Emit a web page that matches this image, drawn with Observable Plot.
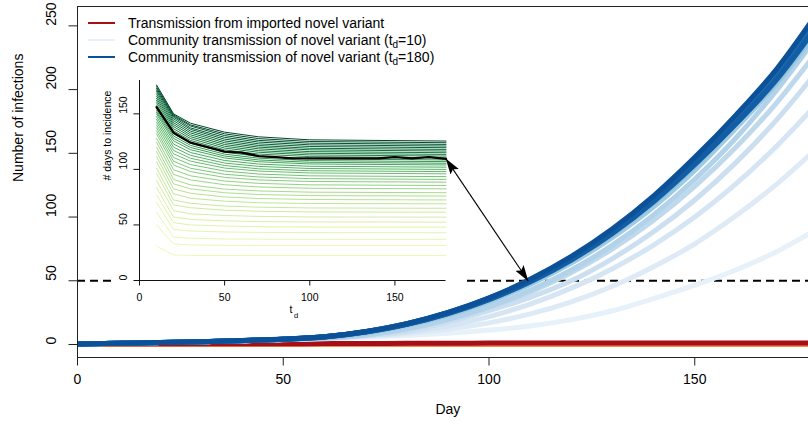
<!DOCTYPE html>
<html><head><meta charset="utf-8">
<script src="https://cdn.jsdelivr.net/npm/d3@7"></script>
<script src="https://cdn.jsdelivr.net/npm/@observablehq/plot@0.6"></script>
<style>
body{margin:0;background:#fff;}
#wrap{position:relative;width:808px;height:425px;overflow:hidden;font-family:"Liberation Sans",Arial,Helvetica,sans-serif;}
#wrap svg{position:absolute;left:0;top:0;}
#insetBg{position:absolute;left:112px;top:66px;width:354px;height:234px;background:#fff;}
#legend{position:absolute;left:88px;top:14.8px;font-size:14px;color:#000;}
.row{display:flex;align-items:center;height:17px;white-space:nowrap;}
.sw{width:27px;height:2px;margin-right:13px;flex:none;}
.sub{font-size:10px;position:relative;top:3px;}
</style></head><body><div id="wrap"></div>
<script>
// ---------- data ----------
const days = [0,10,20,30,40,50,60,70,80,90,100,110,120,130,140,150,160,170,180];
const tdValues = [10,20,30,40,50,60,70,80,90,100,110,120,130,140,150,160,170,180];
// community transmission curves, one per t_d (light -> dark)
const communityByTd = [
  [0.3,1,1.5,2.2,3,3.8,4.6,5.6,7,8.8,11.3,14.5,19.5,26.5,36,46.5,58.5,73,91],
  [0.3,1,1.5,2.2,3,3.9,4.9,6.2,8.5,12,17,24,33.5,45.7,61,79,101,126,155],
  [0.3,1,1.5,2.2,3,3.9,4.9,6.6,9.4,14.5,21.9,31.7,44.2,59.5,78,100,126,156,190],
  [0.3,1,1.5,2.2,3,3.9,5,7,10.4,17.5,26.5,37,50,67.4,88.4,113.4,142.7,176.6,215.6],
  [0.3,1,1.5,2.2,3,3.9,5,7.5,12.2,19.4,28.9,41.1,56.4,75,97.4,124,154.7,190,231],
  [0.3,1,1.5,2.2,3,3.9,5,7.5,12.3,19.8,29.7,42.5,58.5,78,101.7,129.6,162,200,243],
  [0.3,1,1.5,2.2,3,4,5.5,8.9,14.8,23,33.6,47.1,63.8,84,108,136.6,169.6,205,246],
  [0.3,1,1.5,2.2,3,4,5.6,9.3,15.4,23.7,34.6,48.4,65.5,86.2,110.8,139.7,173.3,206.5,249.3],
  [0.3,1,1.5,2.2,3,4.1,5.8,9.9,16.2,24.8,35.9,50,67.4,88.4,113.3,142.5,176.3,209.8,252.8],
  [0.3,1,1.5,2.2,3.1,4.2,6,10,16.1,24.7,35.9,50.2,67.7,89,114.3,143.9,176.5,212.4,256.2],
  [0.3,1,1.5,2.2,3.1,4.2,6.1,10.1,16.3,24.9,36.3,50.7,68.4,89.9,115.4,145.3,178.3,214.5,258.8],
  [0.3,1,1.5,2.2,3.1,4.2,5.9,9.9,15.9,24.5,35.5,49.7,67,88.1,113.2,142.5,174.7,210.2,253.7],
  [0.3,1,1.5,2.2,3.1,4.2,6,10,16.2,24.8,36.1,50.4,68,89.4,114.9,144.6,177.4,213.4,257.5],
  [0.3,1,1.5,2.2,3.1,4.2,6.1,10.1,16.3,25,36.4,50.8,68.5,90,115.6,145.5,179.5,213.5,257.4],
  [0.3,1,1.5,2.2,3,4.1,5.9,9.8,15.8,24.2,35.2,49.2,66.3,87.2,112,141,173,208.1,251.1],
  [0.3,1,1.5,2.2,3.1,4.2,6,10,16,24.6,35.7,49.9,67.4,88.6,113.7,143.2,175.6,211.3,255],
  [0.3,1,1.5,2.2,3,4.1,5.9,9.8,15.8,24.3,35.3,49.3,66.5,87.4,112.3,141.4,173.4,208.5,251.5],
  [0.3,1,1.5,2.2,3.2,4.3,6.1,10.2,16.4,25.2,36.6,51.2,69.1,90.8,116.6,146.8,180,216.6,261.3]
];
const importedMain = [0.8,0.6,0.5,0.5,0.5,0.6,0.7,0.8,0.9,1,1.1,1.1,1.1,1.1,1.1,1.1,1.1,1.1,1.1];
const importedLow  = [0,0,0,0,0,0,0,0,0,0,0,0,0,0,0,0,0,0,0];
const threshold = 50;

// inset: days to incidence vs t_d, one line per incidence level
const insetTd = [10,20,30,50,70,100,180];
const greenLines = [
  [31,23,22.5,22.5,22.5,22.5,22.5],
  [50,33,32,31.7,31.5,31.5,31.5],
  [61.5,39,38,37.4,37.2,37.1,37],
  [70,46,44.5,43.7,43.3,43.1,43],
  [77,52,50,49,48.4,48.1,48],
  [83.5,57,55,53.7,53,52.7,52.5],
  [90,63,60,58.5,57.7,57.2,57],
  [96.5,68,65.5,63.3,62.3,61.7,61.5],
  [101,72.5,69.5,67,66,65.3,65],
  [107,78,74,71.4,70,69.3,69],
  [111.5,82.5,78.5,75.2,73.8,72.9,72.5],
  [116,87,82.5,79,77.4,76.4,76],
  [120,91,86,82.3,80.6,79.5,79],
  [124.5,95.5,90.5,86.2,84.2,83,82.5],
  [128,99.7,94.2,89.5,87.4,86.1,85.5],
  [132,104,98,92.8,90.5,89.1,88.5],
  [134.7,107.3,101,95.6,93.2,91.7,91],
  [137.4,110.7,104.3,98.5,95.8,94.2,93.5],
  [140,114,107.4,101.2,98.5,96.8,96],
  [142.6,117,110,103.5,100.5,98.8,98],
  [145,120,112.6,105.7,102.7,100.8,100],
  [147.4,122.8,115.2,108,104.8,102.8,102],
  [149.8,125.7,117.7,110.3,106.9,104.9,104],
  [151.4,127.9,119.7,112,108.5,106.4,105.5],
  [153,130,121.6,113.7,110.1,107.9,107],
  [155,132,123.5,115.4,111.7,109.5,108.5],
  [158,134.8,126,117.6,113.8,111.5,110.5],
  [160,136.6,127.7,119.2,115.4,113,112],
  [162,138.5,129.4,120.8,116.9,114.5,113.5],
  [164,140.3,131.1,122.4,118.5,116,115],
  [166,142,132.8,124,120,117.6,116.5],
  [168,143.8,134.4,125.6,121.5,119,118],
  [170,145.5,136,127.2,123,120.6,119.5],
  [171.5,147,137.3,128.8,124.6,122.1,121],
  [173,148,139,130.4,126.1,123.6,122.5],
  [174.5,149,140,132,127.7,125.1,124],
  [176,150,141.5,133.5,129.3,126.6,125.5]
];
const blackLine = [156,133,124,120,116,115,112,111,110,110,110,110,110,110,111,110,111,109.5];

const xTicks = [0,50,100,150];
const yTicks = [0,50,100,150,200,250];
const insetXTicks = [0,50,100,150];
const insetYTicks = [0,50,100,150];
const xDomain = [0,180];
const yDomain = [-10.2,265.2];
const insetDomain = [0,180];
const legendLabels = ["Transmission from imported novel variant",
  "Community transmission of novel variant (t<span class='sub'>d</span>=10)",
  "Community transmission of novel variant (t<span class='sub'>d</span>=180)"];

// ---------- styles ----------
const FONT = '"Liberation Sans", Arial, Helvetica, sans-serif';
const RED = "#a50f15", ORANGE = "#f58a52";
const blueColor = k => d3.interpolateBlues(0.08 + 0.795 * k / (tdValues.length - 1));
const greenColor = k => d3.interpolateYlGn(0.15 + 0.85 * Math.pow(k / (greenLines.length - 1), 1.15));

function mainOptions(marks) {
  return {
    width: 808, height: 425,
    marginLeft: 77, marginRight: 0, marginTop: 6, marginBottom: 68,
    x: {domain: xDomain, range: [77, 817.7], axis: null},
    y: {domain: yDomain, axis: null},
    style: {fontFamily: FONT, fontSize: "14px", background: "transparent", color: "#000", overflow: "hidden"},
    marks
  };
}

const mainPlot = Plot.plot(mainOptions([
  Plot.ruleY([threshold], {stroke: "#000", strokeWidth: 1.8, strokeDasharray: "8,5"}),
  Plot.line(days, {x: d => d, y: (d, i) => importedLow[i], stroke: ORANGE, strokeWidth: 5, clip: true}),
  Plot.line(days, {x: d => d, y: (d, i) => importedMain[i], stroke: RED, strokeWidth: 5, curve: "monotone-x", clip: true}),
  ...communityByTd.map((vals, k) => Plot.line(days, {x: d => d, y: (d, i) => vals[i], stroke: blueColor(k), strokeWidth: 5, curve: "monotone-x", clip: true})),
  Plot.ruleX([xDomain[0]], {stroke: "#222"}),
  Plot.ruleY([yDomain[0]], {stroke: "#222"}),
  Plot.ruleY([yDomain[1]], {stroke: "#222"}),
  Plot.axisX(xTicks, {anchor: "bottom", tickSize: 8.5, fill: "none", label: null, stroke: "#222"}),
  Plot.axisY(yTicks, {anchor: "left", tickSize: 8.5, fill: "none", label: null, stroke: "#222"}),
  Plot.text(xTicks, {x: d => d, text: d => String(d), frameAnchor: "bottom", dy: 26, fill: "#000"}),
  Plot.text(yTicks, {y: d => d, text: d => String(d), frameAnchor: "left", dx: -25.5, rotate: -90, fill: "#000"}),
  Plot.text(["Day"], {x: [(xDomain[0] + xDomain[1]) / 2], text: d => d, frameAnchor: "bottom", dy: 56, fill: "#000"}),
  Plot.text(["Number of infections"], {text: d => d, frameAnchor: "left", dx: -59, rotate: -90, fill: "#000"})
]));

const insetPlot = Plot.plot({
  width: 808, height: 425,
  marginLeft: 139, marginRight: 362.5, marginTop: 80, marginBottom: 145,
  x: {domain: insetDomain, axis: null},
  y: {domain: insetDomain, axis: null},
  style: {fontFamily: FONT, fontSize: "10.5px", background: "transparent", color: "#000"},
  marks: [
    ...greenLines.map((vals, k) => Plot.line(insetTd, {x: d => d, y: (d, i) => vals[i], stroke: greenColor(k), strokeWidth: 1})),
    Plot.line(tdValues, {x: d => d, y: (d, i) => blackLine[i], stroke: "#000", strokeWidth: 2.3}),
    Plot.ruleX([insetDomain[0]], {stroke: "#111"}),
    Plot.ruleY([insetDomain[0]], {stroke: "#111"}),
    Plot.axisX(insetXTicks, {anchor: "bottom", tickSize: 5.5, fill: "none", label: null, stroke: "#111"}),
    Plot.axisY(insetYTicks, {anchor: "left", tickSize: 5.5, fill: "none", label: null, stroke: "#111"}),
    Plot.text(insetXTicks, {x: d => d, text: d => String(d), frameAnchor: "bottom", dy: 20, fill: "#000"}),
    Plot.text(insetYTicks, {y: d => d, text: d => String(d), frameAnchor: "left", dx: -15.7, rotate: -90, fill: "#000"}),
    Plot.text(["# days to incidence"], {text: d => d, frameAnchor: "left", dx: -32, rotate: -90, fill: "#000"}),
    Plot.text(["t"], {text: d => d, frameAnchor: "bottom", dx: -1.8, dy: 32.5, fill: "#000"}),
    Plot.text(["d"], {text: d => d, frameAnchor: "bottom", dx: 3.3, dy: 37, fontSize: 7.5, fill: "#000"})
  ]
});

// arrow from the inset's last black point to the threshold crossing on the main chart
const ix = insetPlot.scale("x"), iy = insetPlot.scale("y");
const mx = mainPlot.scale("x"), my = mainPlot.scale("y");
const tdLast = tdValues[tdValues.length - 1];
const dLast = blackLine[blackLine.length - 1];
const arrowData = [{x1: mx.invert(ix.apply(tdLast)), y1: my.invert(iy.apply(dLast)), x2: dLast, y2: threshold}];
const arrowPlot = Plot.plot(mainOptions([
  Plot.link(arrowData, {x1: "x1", y1: "y1", x2: "x2", y2: "y2", stroke: "#000", strokeWidth: 1.1})
]));
const defs = document.createElementNS("http://www.w3.org/2000/svg", "defs");
defs.innerHTML = '<marker id="ahead" viewBox="0 0 16 10" refX="15.5" refY="5" markerWidth="16" markerHeight="10" markerUnits="userSpaceOnUse" orient="auto-start-reverse"><path d="M0,0 L16,5 L0,10 L3,5 Z" fill="#000"></path></marker>';
arrowPlot.insertBefore(defs, arrowPlot.firstChild);
arrowPlot.querySelectorAll('g[aria-label="link"] path').forEach(p => {
  p.setAttribute("marker-start", "url(#ahead)");
  p.setAttribute("marker-end", "url(#ahead)");
});

const wrap = document.getElementById("wrap");
wrap.appendChild(mainPlot);
const bg = document.createElement("div"); bg.id = "insetBg"; wrap.appendChild(bg);
wrap.appendChild(insetPlot);
wrap.appendChild(arrowPlot);

const legend = document.createElement("div"); legend.id = "legend";
const legendColors = [RED, blueColor(0), blueColor(tdValues.length - 1)];
legend.innerHTML = legendLabels.map((t, i) =>
  `<div class="row"><span class="sw" style="background:${legendColors[i]}"></span><span>${t}</span></div>`).join("");
wrap.appendChild(legend);
</script></body></html>
